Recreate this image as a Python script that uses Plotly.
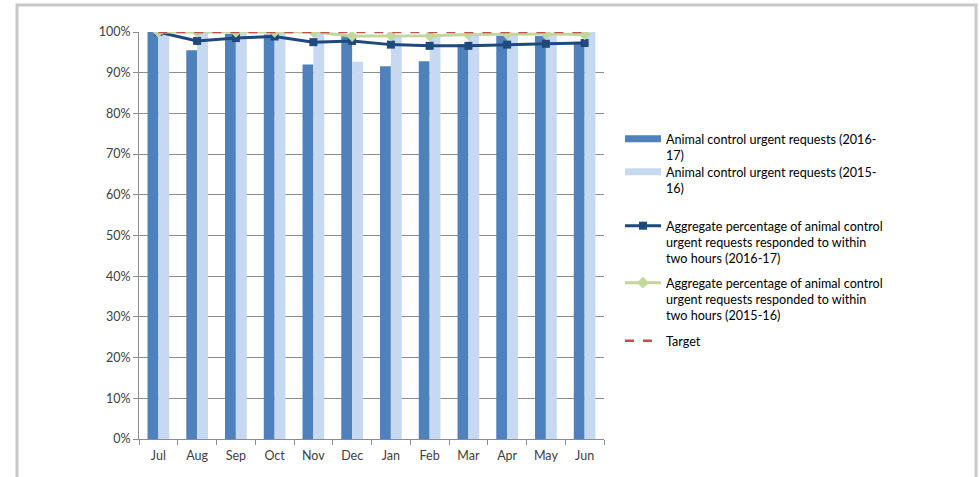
import plotly.graph_objects as go

months = ["Jul", "Aug", "Sep", "Oct", "Nov", "Dec", "Jan", "Feb", "Mar", "Apr", "May", "Jun"]
bars_1617 = [100, 95.5, 99.6, 99.4, 92.0, 99.4, 91.6, 92.8, 97.0, 99.1, 99.0, 97.6]
bars_1516 = [100, 99.9, 100, 100, 99.9, 92.7, 99.0, 99.3, 99.2, 99.5, 99.5, 100]
agg_1617 = [100, 97.8, 98.5, 98.9, 97.5, 97.8, 96.9, 96.6, 96.6, 96.9, 97.1, 97.3]
agg_1516 = [100, 100, 100, 100, 100, 99.0, 99.1, 99.1, 99.4, 99.5, 99.5, 99.4]
target = [100] * 12

names = [
    "Animal control urgent requests (2016-<br>17)",
    "Animal control urgent requests (2015-<br>16)",
    "Aggregate percentage of animal control<br>urgent requests responded to within<br>two hours (2016-17)",
    "Aggregate percentage of animal control<br>urgent requests responded to within<br>two hours (2015-16)",
    "Target",
]

FONT = "Lato, 'Open Sans', sans-serif"
TXT = "#404040"
C_DARK, C_LIGHT = "#4F81BD", "#C6D9F1"

fig = go.Figure()
fig.add_trace(go.Bar(x=months, y=bars_1617, name=names[0], marker_color=C_DARK,
                     marker_line_width=0, legendgroup="b1", showlegend=False))
fig.add_trace(go.Bar(x=months, y=bars_1516, name=names[1], marker_color=C_LIGHT,
                     marker_line_width=0, legendgroup="b2", showlegend=False))
# legend entries for the bar series drawn as wide rectangles (Excel style)
fig.add_trace(go.Scatter(x=[None], y=[None], name=names[0], mode="lines",
                         line=dict(color=C_DARK, width=7), legendgroup="b1",
                         legend="legend", hoverinfo="skip"))
fig.add_trace(go.Scatter(x=[None], y=[None], name=names[1], mode="lines",
                         line=dict(color=C_LIGHT, width=7), legendgroup="b2",
                         legend="legend2", hoverinfo="skip"))
fig.add_trace(go.Scatter(x=months, y=agg_1617, name=names[2], mode="lines+markers",
                         line=dict(color="#1F497D", width=3),
                         marker=dict(symbol="square", size=8, color="#1F497D"),
                         legend="legend3"))
fig.add_trace(go.Scatter(x=months, y=agg_1516, name=names[3], mode="lines+markers",
                         line=dict(color="#C3D69B", width=3),
                         marker=dict(symbol="diamond", size=9, color="#C3D69B"),
                         legend="legend4"))
fig.add_trace(go.Scatter(x=months, y=target, name=names[4], mode="lines",
                         line=dict(color="#C0504D", width=2.5, dash="dash"),
                         legend="legend5"))

L, R = 139, 604   # pixel columns of plot left/right
H0, H1 = 439, 32  # pixel rows for 0% and 100%
def py(pix):
    return (H0 - pix) / (H0 - H1)
def px(pix):
    return (pix - L) / (R - L)

def leg(top):
    return dict(x=px(620), xanchor="left", y=py(top), yanchor="top",
                font=dict(family=FONT, size=12.6, color="#000000"),
                bgcolor="rgba(0,0,0,0)", valign="top", itemwidth=36,
                tracegroupgap=0, traceorder="normal")

fig.update_layout(
    width=980, height=477,
    margin=dict(l=L, r=980 - R, t=H1, b=477 - H0, autoexpand=False),
    paper_bgcolor="white", plot_bgcolor="white",
    barmode="group", bargap=0.44, bargroupgap=0,
    font=dict(family=FONT, size=12, color=TXT),
    legend=leg(124), legend2=leg(157), legend3=leg(211),
    legend4=leg(268), legend5=leg(326),
    showlegend=True,
)
fig.update_yaxes(range=[0, 100], dtick=10, ticksuffix="%", showgrid=True,
                 gridcolor="#8c8c8c", gridwidth=1, showline=True, linecolor="#8c8c8c",
                 ticks="outside", ticklen=5, tickcolor="#8c8c8c", zeroline=False,
                 automargin=False, tickfont=dict(family=FONT, size=12.5, color=TXT))
fig.update_xaxes(range=[-0.5, len(months) - 0.5], showline=True, linecolor="#8c8c8c",
                 ticks="outside", ticklen=5, tickcolor="#8c8c8c", tickson="boundaries",
                 showgrid=False, automargin=False, ticklabelstandoff=5,
                 tickfont=dict(family=FONT, size=12.5, color=TXT))

# outer chart border
fig.add_shape(type="rect", xref="paper", yref="paper",
              x0=px(17), x1=px(976), y0=py(490), y1=py(5),
              line=dict(color="#c8c8c8", width=3),
              fillcolor="rgba(0,0,0,0)", layer="below")

fig.write_html("out.html", config={"displayModeBar": False},
               post_script="document.body.style.margin='0';document.body.style.overflow='hidden';")
